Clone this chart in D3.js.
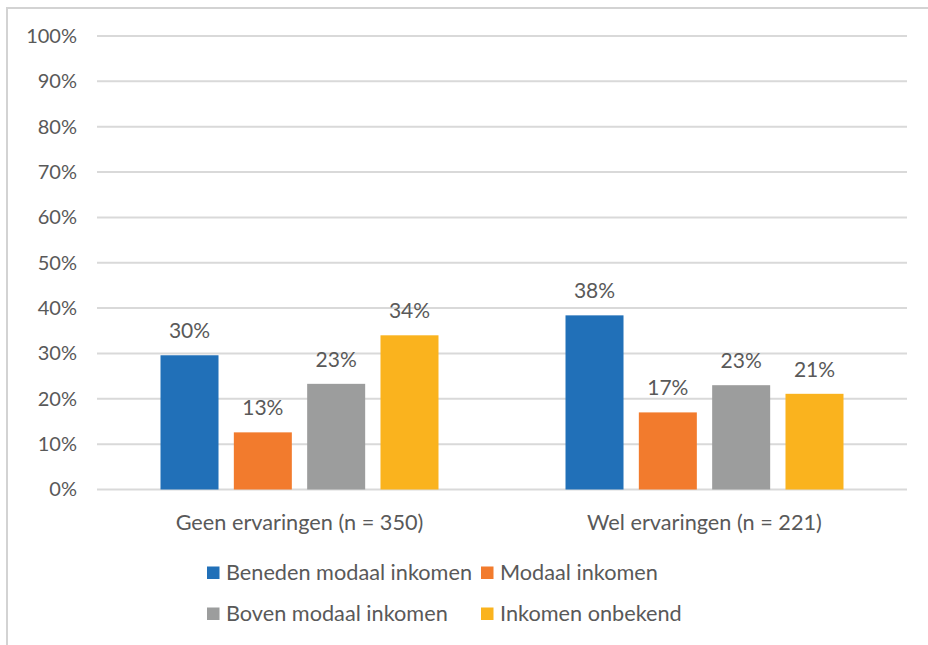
<!DOCTYPE html>
<html><head><meta charset="utf-8">
<script src="https://cdn.jsdelivr.net/npm/d3@7"></script>
<style>html,body{margin:0;padding:0;background:#fff;} svg{display:block;}</style>
</head><body>
<svg id="chart" width="928" height="645"></svg>
<script>
const categories = ["Geen ervaringen (n = 350)", "Wel ervaringen (n = 221)"];
const seriesNames = ["Beneden modaal inkomen", "Modaal inkomen", "Boven modaal inkomen", "Inkomen onbekend"];
const seriesColors = ["#2170b8", "#f27b2d", "#9c9d9d", "#fab31e"];
const beneden = [29.6, 38.4];
const modaal = [12.6, 17.0];
const boven = [23.3, 23.0];
const onbekend = [34.0, 21.1];
const yTicks = [0, 10, 20, 30, 40, 50, 60, 70, 80, 90, 100];

const seriesValues = [beneden, modaal, boven, onbekend];
const svg = d3.select("#chart");
const font = "Lato, 'Open Sans', sans-serif";
const textColor = "#595959";

// frame
svg.append("path").attr("d", "M7,645 V8 H928").attr("fill", "none")
  .attr("stroke", "#d3d3d3").attr("stroke-width", 2);

const plot = {left: 97, right: 907, top: 36, bottom: 489.5};
const y = d3.scaleLinear().domain([0, 100]).range([plot.bottom, plot.top]);
const x0 = d3.scaleBand().domain(categories).range([plot.left, plot.right])
  .paddingInner(0.3136).paddingOuter(0.1568);
const x1 = d3.scaleBand().domain(seriesNames).range([0, x0.bandwidth()]).paddingInner(0.209);

// grid
const grid = svg.append("g");
grid.selectAll("line").data(yTicks).join("line")
  .attr("x1", plot.left).attr("x2", plot.right)
  .attr("y1", d => y(d)).attr("y2", d => y(d))
  .attr("stroke", "#d9d9d9").attr("stroke-width", 2);

// y axis labels
const yAxis = d3.axisLeft(y).tickValues(yTicks).tickFormat(d => d + "%").tickSize(0).tickPadding(0);
const gy = svg.append("g").attr("transform", "translate(77,0)").call(yAxis);
gy.select(".domain").remove();
gy.selectAll("text").attr("font-family", font).attr("font-size", 20).attr("fill", textColor);

// bars
const groups = svg.append("g").selectAll("g").data(categories).join("g")
  .attr("transform", d => `translate(${x0(d)},0)`);
groups.each(function(cat, ci) {
  const g = d3.select(this);
  const data = seriesNames.map((s, si) => ({s, si, v: seriesValues[si][ci]}));
  g.selectAll("rect").data(data).join("rect")
    .attr("x", d => x1(d.s)).attr("width", x1.bandwidth())
    .attr("y", d => y(d.v)).attr("height", d => y(0) - y(d.v))
    .attr("fill", d => seriesColors[d.si]);
  g.selectAll("text").data(data).join("text")
    .attr("x", d => x1(d.s) + x1.bandwidth() / 2)
    .attr("y", d => y(d.v) - 17)
    .attr("text-anchor", "middle")
    .attr("font-family", font).attr("font-size", 21).attr("fill", textColor)
    .text(d => Math.round(d.v) + "%");
});

// x axis labels
const xAxis = d3.axisBottom(x0).tickSize(0).tickPadding(0);
const gx = svg.append("g").attr("transform", `translate(0,${plot.bottom + 25})`).call(xAxis);
gx.select(".domain").remove();
gx.selectAll("text").attr("font-family", font).attr("font-size", 21.7).attr("fill", textColor);

// legend
const legendPos = [[207, 572], [481, 572], [207, 613], [481, 613]];
const legend = svg.append("g").selectAll("g").data(seriesNames).join("g")
  .attr("transform", (d, i) => `translate(${legendPos[i][0]},${legendPos[i][1]})`);
legend.append("rect").attr("x", 0).attr("y", -5.5).attr("width", 12.5).attr("height", 12.5)
  .attr("fill", (d, i) => seriesColors[i]);
legend.append("text").attr("x", 19).attr("y", 0).attr("dy", "0.35em")
  .attr("font-family", font).attr("font-size", 21.7).attr("fill", textColor)
  .text(d => d);
</script>
</body></html>
